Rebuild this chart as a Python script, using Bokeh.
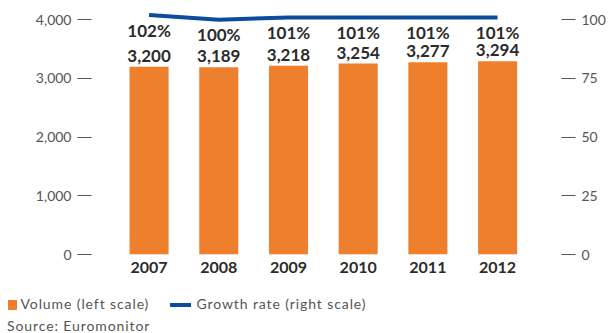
from bokeh.plotting import figure
from bokeh.models import (Range1d, LinearAxis, FixedTicker, NumeralTickFormatter,
                          ColumnDataSource, Div)
from bokeh.layouts import column
from bokeh.core.properties import value
from bokeh.embed import file_html
from bokeh.resources import INLINE

# ---- data -------------------------------------------------------------
years = ["2007", "2008", "2009", "2010", "2011", "2012"]
volume = [3200, 3189, 3218, 3254, 3277, 3294]          # left scale
growth = [102, 100, 101, 101, 101, 101]                # right scale, %
left_ticks = [0, 1000, 2000, 3000, 4000]
right_ticks = [0, 25, 50, 75, 100]
legend_labels = ["Volume (left scale)", "Growth rate (right scale)"]
source_note = "Source: Euromonitor"

ORANGE = "#EE7F2D"
BLUE = "#0B4C9F"
DARK = "#2b2b2b"
GREY = "#555555"
FONT = "Lato"

W, H_CHART, H_NOTE = 608, 290, 43

idx = list(range(len(years)))
src = ColumnDataSource(dict(
    x=idx, volume=volume, growth=growth,
    vol_lab=[f"{v:,}" for v in volume],
    gr_lab=[f"{g}%" for g in growth],
))

p = figure(width=W, height=H_CHART, output_backend="svg", toolbar_location=None,
           x_range=Range1d(-0.826, 5.917), y_range=Range1d(0, 4260),
           min_border_left=91, min_border_right=47, min_border_top=4,
           min_border_bottom=36)
p.extra_y_ranges = {"growth": Range1d(0, 106.5)}
p.outline_line_color = None
p.grid.visible = False

p.vbar(x="x", top="volume", width=0.56, source=src, color=ORANGE, line_color=None)
p.line(x="x", y="growth", source=src, y_range_name="growth",
       line_color=BLUE, line_width=4)

p.text(x="x", y="volume", text="vol_lab", source=src, y_offset=-11,
       text_align="center", text_baseline="alphabetic",
       text_font=value(FONT), text_font_style="bold", text_font_size="17px",
       text_color=DARK)
p.text(x="x", y="growth", text="gr_lab", source=src, y_range_name="growth",
       y_offset=15, text_align="center", text_baseline="alphabetic",
       text_font=value(FONT), text_font_style="bold", text_font_size="17px",
       text_color=DARK)

# axes
xa = p.xaxis[0]
xa.ticker = FixedTicker(ticks=idx)
xa.major_label_overrides = {i: y for i, y in zip(idx, years)}
xa.axis_line_color = None
xa.major_tick_line_color = None
xa.minor_tick_line_color = None
xa.major_label_standoff = 1
xa.major_label_text_font = FONT
xa.major_label_text_font_style = "bold"
xa.major_label_text_font_size = "16px"
xa.major_label_text_color = DARK

ya = p.yaxis[0]
ya.ticker = FixedTicker(ticks=left_ticks)
ya.formatter = NumeralTickFormatter(format="0,0")

ra = LinearAxis(y_range_name="growth", ticker=FixedTicker(ticks=right_ticks))
p.add_layout(ra, "right")

for ax in (ya, ra):
    ax.axis_line_color = None
    ax.minor_tick_line_color = None
    ax.major_tick_in = 0
    ax.major_tick_out = 14
    ax.major_tick_line_color = GREY
    ax.major_tick_line_width = 1
    ax.major_label_standoff = 6
    ax.major_label_text_font = FONT
    ax.major_label_text_font_size = "14px"
    ax.major_label_text_color = GREY

# ---- legend and source note ------------------------------------------
def box(left, top, w, h, color):
    return (f'<span style="position:absolute;left:{left}px;top:{top}px;'
            f'width:{w}px;height:{h}px;background:{color};"></span>')

def txt(left, top, s):
    return (f'<span style="position:absolute;left:{left}px;top:{top}px;'
            f'white-space:nowrap;">{s}</span>')

note_html = (
    f'<div style="position:relative;width:{W}px;height:{H_NOTE}px;'
    f'font-family:{FONT};font-size:14px;letter-spacing:0.9px;color:{GREY};'
    f'line-height:normal;">'
    + box(7.5, 10, 9.5, 9.5, ORANGE)
    + txt(20.5, 5, legend_labels[0])
    + box(169.5, 12.7, 21.5, 4.5, BLUE)
    + txt(196.5, 5, legend_labels[1])
    + txt(7, 26.7, source_note)
    + '</div>'
)
note = Div(text=note_html, width=W, height=H_NOTE, margin=(0, 0, 0, 0))

layout = column(p, note, spacing=0)
open("out.html", "w").write(file_html(layout, INLINE))
